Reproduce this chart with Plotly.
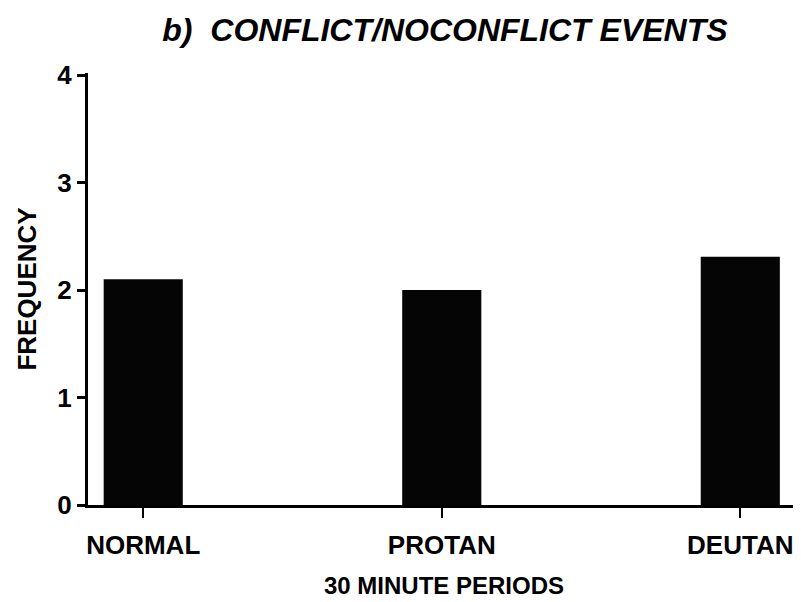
import plotly.graph_objects as go

categories = ["NORMAL", "PROTAN", "DEUTAN"]
frequency = [2.1, 2.0, 2.31]
y_ticks = [0, 1, 2, 3, 4]

FONT = "Liberation Sans, Arial, sans-serif"

fig = go.Figure(
    go.Bar(
        x=list(range(len(categories))),
        y=frequency,
        width=0.265,
        marker=dict(color="#050505", line=dict(width=0)),
    )
)

fig.update_layout(
    width=793,
    height=594,
    paper_bgcolor="white",
    plot_bgcolor="white",
    margin=dict(l=80, r=1, t=65, b=97),
    showlegend=False,
    font=dict(family=FONT, color="black"),
    title=dict(
        text="<b><i>b)  CONFLICT/NOCONFLICT EVENTS</i></b>",
        x=0.551, xanchor="center",
        y=0.963, yanchor="middle",
        font=dict(size=32, family=FONT, color="black"),
    ),
)

fig.update_xaxes(
    tickvals=list(range(len(categories))),
    ticktext=[f"<b>{c}</b>" for c in categories],
    range=[-0.185, 2.2],
    showline=True, linecolor="black", linewidth=3,
    ticks="outside", ticklen=10, tickwidth=2, tickcolor="black",
    tickfont=dict(size=26, family=FONT),
    ticklabelstandoff=5,
    showgrid=False, zeroline=False,
    title=dict(text="<b>30 MINUTE PERIODS</b>", font=dict(size=24, family=FONT), standoff=18),
)

fig.update_yaxes(
    tickvals=y_ticks,
    ticktext=[f"<b>{t}</b>" for t in y_ticks],
    range=[0, 4.02],
    showline=True, linecolor="black", linewidth=3,
    ticks="outside", ticklen=8, tickwidth=3, tickcolor="black",
    tickfont=dict(size=26, family=FONT),
    showgrid=False, zeroline=False,
    title=dict(text="<b>FREQUENCY</b>", font=dict(size=26, family=FONT), standoff=14),
)

fig.write_html("out.html")
